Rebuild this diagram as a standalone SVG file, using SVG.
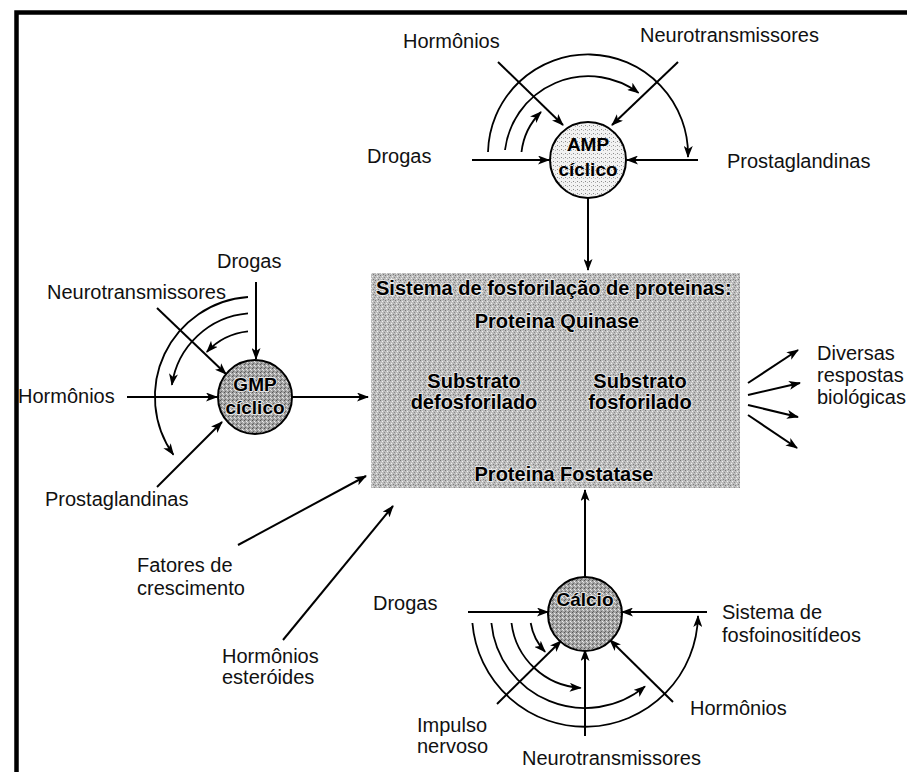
<svg xmlns="http://www.w3.org/2000/svg" width="907" height="772" viewBox="0 0 907 772">
<defs>
<style>
.t{font-family:"Liberation Sans",Arial,sans-serif;font-size:20px;fill:#111}
.b{font-family:"Liberation Sans",Arial,sans-serif;font-size:20px;font-weight:bold;fill:#000}
.bc{font-family:"Liberation Sans",Arial,sans-serif;font-size:19px;font-weight:bold;fill:#000;text-anchor:middle}
.ln{fill:none;stroke:#000;stroke-width:2;marker-end:url(#ah)}
.arca{fill:none;stroke:#000;stroke-width:1.8;marker-end:url(#ah)}
.halo{paint-order:stroke;stroke:#e6e6e6;stroke-width:2px;stroke-linejoin:round}
</style>
<marker id="ah" markerUnits="userSpaceOnUse" markerWidth="12" markerHeight="9" refX="11" refY="4.5" orient="auto">
<path d="M0,0 L12,4.5 L0,9 L3,4.5 z" fill="#000"/>
</marker>
<pattern id="pLight" width="4" height="4" patternUnits="userSpaceOnUse">
<rect width="4" height="4" fill="#f2f2f2"/><rect x="1" y="1" width="1" height="1" fill="#8a8a8a"/><rect x="3" y="2" width="1" height="1" fill="#b0b0b0"/>
</pattern>
<pattern id="pDark" width="4" height="4" patternUnits="userSpaceOnUse">
<rect width="4" height="4" fill="#a4a4a4"/><rect x="0" y="0" width="1" height="1" fill="#555"/><rect x="2" y="1" width="1" height="1" fill="#eee"/><rect x="1" y="3" width="1" height="1" fill="#666"/><rect x="3" y="2" width="1" height="1" fill="#ddd"/>
</pattern>
<pattern id="pBox" width="5" height="5" patternUnits="userSpaceOnUse">
<rect width="5" height="5" fill="#bdbdbd"/><rect x="0" y="0" width="1" height="1" fill="#777"/><rect x="2" y="1" width="1" height="1" fill="#f0f0f0"/><rect x="4" y="2" width="1" height="1" fill="#888"/><rect x="1" y="3" width="1" height="1" fill="#eee"/><rect x="3" y="4" width="1" height="1" fill="#7a7a7a"/>
</pattern>
</defs>
<rect width="907" height="772" fill="#fff"/>
<path d="M16.5,772 V12.5 H907" fill="none" stroke="#000" stroke-width="4.5"/>

<g id="connectors">
<path class="ln" d="M472,160 L549,160"/>
<path class="ln" d="M698,160 L627,160"/>
<path class="ln" d="M498,62 L563,125"/>
<path class="ln" d="M678,62 L612,125"/>
<path class="arca" d="M488,152 A100,100 0 0 1 688,157"/>
<path class="arca" d="M505,150 A84,84 0 0 1 638.6,92.9"/>
<path class="arca" d="M521.5,152 A67,67 0 0 1 541,112"/>
<path class="ln" d="M588,198 L588,270"/>
<path class="ln" d="M256,282 L256,359"/>
<path class="ln" d="M157,308 L226,374"/>
<path class="ln" d="M127,397 L217,397"/>
<path class="ln" d="M157,487 L222,422"/>
<path class="arca" d="M248,297 A100,100 0 0 0 173.4,454.7"/>
<path class="arca" d="M248,313.3 A84,84 0 0 0 171.9,384.8"/>
<path class="arca" d="M248,331.4 A66,66 0 0 0 206.8,351.9"/>
<path class="ln" d="M292,397 L368,397"/>
<path class="ln" d="M238,545 L366,476"/>
<path class="ln" d="M283,640 L393,506"/>
<path class="arca" d="M476,368 C500,335 610,330 645,373"/>
<path class="arca" d="M645,430 C620,461 505,461 477,432"/>
<path class="ln" d="M748,383 L798,350"/>
<path class="ln" d="M748,395 L800,383"/>
<path class="ln" d="M748,405 L798,417"/>
<path class="ln" d="M748,415 L797,448"/>
<path class="ln" d="M585,577 L585,490"/>
<path class="ln" d="M468,612 L548,612"/>
<path class="ln" d="M707,612 L622,612"/>
<path class="ln" d="M497,704 L561,641"/>
<path class="ln" d="M585,736 L585,650"/>
<path class="ln" d="M673,702 L610,640"/>
<path class="arca" d="M472.4,623 A113,113 0 0 0 698,616"/>
<path class="arca" d="M491.4,623 A94,94 0 0 0 645,686.4"/>
<path class="arca" d="M511.5,623 A74,74 0 0 0 580.7,687.9"/>
<path class="arca" d="M530.7,623 A55,55 0 0 0 545.1,651.8"/>
</g>

<g id="box">
<rect x="371" y="273" width="369" height="215" fill="url(#pBox)"/>
<text class="b halo" x="376" y="295">Sistema de fosforilação de proteinas:</text>
<text class="b halo" x="557" y="328" text-anchor="middle">Proteina Quinase</text>
<text class="b halo" x="474" y="388" text-anchor="middle">Substrato</text>
<text class="b halo" x="474" y="409" text-anchor="middle">defosforilado</text>
<text class="b halo" x="640" y="388" text-anchor="middle">Substrato</text>
<text class="b halo" x="640" y="409" text-anchor="middle">fosforilado</text>
<text class="b halo" x="564" y="481" text-anchor="middle">Proteina Fostatase</text>
</g>

<g id="amp">
<circle cx="588" cy="160" r="38" fill="url(#pLight)" stroke="#000" stroke-width="2"/>
<text class="bc" x="588" y="151">AMP</text>
<text class="bc" x="588" y="176">cíclico</text>
</g>
<g id="gmp">
<circle cx="255" cy="397" r="37" fill="url(#pDark)" stroke="#000" stroke-width="2"/>
<text class="bc halo" x="255" y="391">GMP</text>
<text class="bc halo" x="255" y="414">cíclico</text>
</g>
<g id="calcio">
<circle cx="585" cy="614" r="37" fill="url(#pDark)" stroke="#000" stroke-width="2"/>
<text class="bc halo" x="585" y="606">Cálcio</text>
</g>

<g id="labels-amp">
<text class="t" x="403" y="48">Hormônios</text>
<text class="t" x="640" y="42">Neurotransmissores</text>
<text class="t" x="367" y="163">Drogas</text>
<text class="t" x="727" y="168">Prostaglandinas</text>
</g>
<g id="labels-gmp">
<text class="t" x="217" y="268">Drogas</text>
<text class="t" x="47" y="299">Neurotransmissores</text>
<text class="t" x="18" y="403">Hormônios</text>
<text class="t" x="45" y="506">Prostaglandinas</text>
</g>
<g id="labels-other">
<text class="t" x="137" y="572">Fatores de</text>
<text class="t" x="137" y="595">crescimento</text>
<text class="t" x="222" y="663">Hormônios</text>
<text class="t" x="222" y="684">esteróides</text>
<text class="t" x="817" y="360">Diversas</text>
<text class="t" x="817" y="382">respostas</text>
<text class="t" x="817" y="404">biológicas</text>
</g>
<g id="labels-calcio">
<text class="t" x="373" y="610">Drogas</text>
<text class="t" x="722" y="619">Sistema de</text>
<text class="t" x="722" y="642">fosfoinositídeos</text>
<text class="t" x="417" y="732">Impulso</text>
<text class="t" x="417" y="753">nervoso</text>
<text class="t" x="522" y="765">Neurotransmissores</text>
<text class="t" x="690" y="715">Hormônios</text>
</g>
</svg>
